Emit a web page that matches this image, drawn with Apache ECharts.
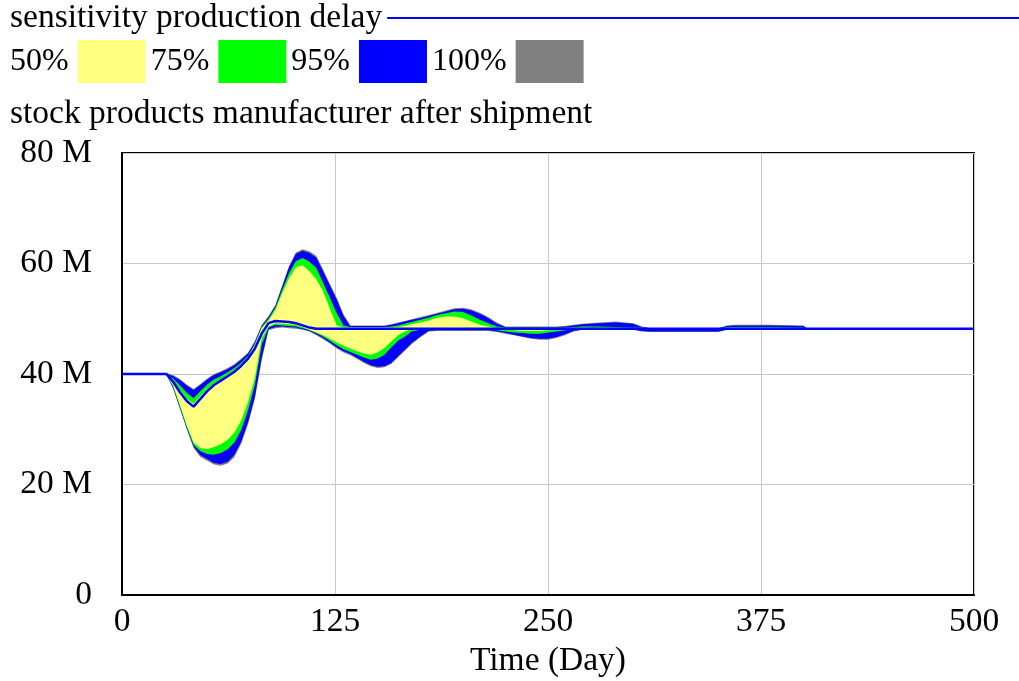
<!DOCTYPE html>
<html>
<head>
<meta charset="utf-8">
<script src="https://cdn.jsdelivr.net/npm/echarts@6/dist/echarts.min.js"></script>
<style>html,body{margin:0;padding:0;background:#fff}#c{width:1019px;height:681px}</style>
</head>
<body>
<div id="c"></div>
<script>
// Time (Day)
const days = [0,26,30,34,38,42,46,50,54,58,62,66,70,74,78,82,86,90,94,98,102,106,110,114,118,122,126,130,134,138,142,146,150,154,158,162,166,170,175,180,185,190,195,200,205,210,215,220,225,230,235,240,245,250,255,260,265,270,280,290,300,305,310,330,350,355,360,380,400,402,500];
// base run (M)
const baseRun = [40,40,38.6,36.7,35.1,34.1,35.5,36.9,38.0,38.8,39.6,40.4,41.5,42.8,44.6,47.3,49.2,49.6,49.5,49.4,49.2,48.8,48.4,48.2,48.2,48.2,48.2,48.2,48.2,48.2,48.2,48.2,48.2,48.2,48.2,48.2,48.2,48.2,48.2,48.2,48.2,48.2,48.2,48.2,48.2,48.2,48.2,48.2,48.2,48.2,48.2,48.2,48.2,48.2,48.2,48.2,48.2,48.2,48.2,48.2,48.2,48.2,48.2,48.2,48.2,48.2,48.2,48.2,48.2,48.2,48.2];
// confidence bounds (M)
const up100 = [40,40.2,39.8,39.1,38.1,37.3,38.2,39.2,40.0,40.5,41.1,41.8,42.8,43.9,46.0,48.9,50.5,52.5,56.0,59.5,62.0,62.6,62.2,61.4,58.9,56.3,53.8,50.8,48.8,48.8,48.8,48.8,48.8,48.8,49.0,49.3,49.6,49.9,50.3,50.7,51.1,51.5,51.9,52.0,51.7,51.1,50.3,49.3,48.6,48.6,48.6,48.6,48.6,48.6,48.6,48.7,48.9,49.1,49.3,49.5,49.2,48.6,48.3,48.3,48.3,48.8,48.9,48.9,48.8,48.2,48.2];
const up95 = [40,40.1,39.6,38.9,37.9,37.1,38.0,39.0,39.8,40.3,40.9,41.6,42.6,43.7,45.8,48.7,50.3,52.3,55.8,59.3,61.7,62.3,61.9,61.1,58.6,56.0,53.5,50.5,48.7,48.7,48.7,48.7,48.7,48.7,48.9,49.2,49.5,49.8,50.1,50.5,50.9,51.3,51.7,51.8,51.5,50.9,50.1,49.1,48.5,48.5,48.5,48.5,48.5,48.5,48.5,48.6,48.8,49.0,49.2,49.3,49.1,48.5,48.3,48.3,48.3,48.7,48.8,48.8,48.7,48.2,48.2];
const up75 = [40,40,39.2,37.9,36.6,35.6,36.9,38.1,39.0,39.6,40.3,41.1,42.1,43.3,45.5,48.5,50.0,52.0,55.2,58.2,60.4,61.0,60.3,59.2,56.5,53.8,51.0,48.8,48.5,48.5,48.5,48.5,48.5,48.5,48.6,48.8,49.1,49.4,49.8,50.2,50.7,51.0,51.3,51.2,50.6,49.8,49.2,48.6,48.4,48.4,48.4,48.4,48.4,48.4,48.4,48.4,48.5,48.6,48.6,48.5,48.4,48.4,48.3,48.3,48.3,48.5,48.5,48.5,48.4,48.2,48.2];
const up50 = [40,40,38.7,37.1,35.5,34.6,36.0,37.3,38.3,39.0,39.8,40.6,41.7,43.0,45.2,48.3,49.7,51.6,54.6,57.3,59.3,59.7,58.6,57.2,55.0,51.8,48.8,48.4,48.4,48.4,48.4,48.4,48.4,48.4,48.4,48.5,48.7,49.0,49.3,49.7,50.2,50.4,50.4,50.1,49.5,48.9,48.6,48.3,48.3,48.3,48.3,48.3,48.3,48.3,48.3,48.3,48.3,48.4,48.3,48.3,48.3,48.3,48.3,48.3,48.3,48.3,48.3,48.3,48.3,48.2,48.2];
const lo50 = [40,40,37.9,34.4,30.7,27.6,26.6,26.4,26.8,27.3,28.1,29.4,31.6,35.0,39.3,46.5,48.6,49.2,49.1,49.0,48.9,48.5,48.0,47.5,47.0,46.4,45.7,45.1,44.6,44.1,43.7,43.5,43.9,44.7,45.9,47.0,47.7,48.1,48.1,48.1,48.1,48.1,48.1,48.1,48.1,48.1,48.1,48.0,48.0,47.9,47.8,47.8,47.8,47.9,48.0,48.1,48.1,48.1,48.1,48.1,48.1,48.1,48.1,48.1,48.1,48.1,48.1,48.1,48.1,48.2,48.2];
const lo75 = [40,40,37.7,34.1,30.4,27.2,26.0,25.5,25.4,25.7,26.4,27.6,29.9,33.5,38.1,45.3,48.4,48.9,48.8,48.7,48.6,48.3,47.9,47.4,46.8,46.0,45.2,44.5,44.0,43.5,43.0,42.6,42.8,43.5,44.8,46.0,46.8,47.7,48.0,48.0,48.0,48.0,48.0,48.0,48.0,48.0,48.0,47.9,47.7,47.5,47.4,47.3,47.3,47.5,47.7,47.9,48.1,48.1,48.1,48.1,48.1,48.0,48.0,48.0,48.0,48.1,48.1,48.1,48.1,48.2,48.2];
const lo95 = [40,40,37.5,33.9,30.2,26.9,25.3,24.6,23.9,23.7,24.1,25.4,27.8,31.3,35.9,43.0,48.1,48.5,48.6,48.5,48.4,48.1,47.8,47.2,46.5,45.7,44.8,44.1,43.6,42.9,42.2,41.6,41.3,41.4,42.0,43.2,44.4,45.6,46.8,47.8,47.9,47.9,47.9,47.9,47.9,47.9,47.9,47.7,47.4,47.1,46.8,46.5,46.4,46.4,46.7,47.2,47.8,48.0,48.0,48.0,48.0,47.8,47.7,47.7,47.7,48.0,48.0,48.0,48.0,48.2,48.2];
const lo100 = [40,39.9,37.3,33.7,30.0,26.6,25.0,24.3,23.6,23.4,23.8,25.0,27.4,30.9,35.5,42.5,47.9,48.3,48.4,48.3,48.2,48.0,47.7,47.0,46.3,45.5,44.6,43.9,43.4,42.7,42.0,41.4,41.1,41.2,41.8,43.0,44.2,45.4,46.6,47.7,47.8,47.8,47.8,47.8,47.8,47.8,47.8,47.6,47.3,47.0,46.7,46.4,46.2,46.2,46.5,47.0,47.7,48.0,48.0,48.0,48.0,47.7,47.6,47.6,47.6,48.0,48.0,48.0,48.0,48.2,48.2];
// axis ticks
const xTicks = {min: 0, max: 500, interval: 125};
const yTicks = {min: 0, max: 80, interval: 20};
const legendNames = ['50%', '75%', '95%', '100%'];

const FONT = 'Liberation Serif';
const FS = 33.5;
const LFS = 32;
const bandColors = {'100%': '#808080', '95%': '#0000ff', '75%': '#00ff00', '50%': '#ffff80'};

function band(name, lower, upper) {
  const c = bandColors[name];
  return {
    name: name, type: 'custom', coordinateSystem: 'cartesian2d',
    color: c, itemStyle: {color: c}, silent: true, animation: false,
    encode: {x: 0, y: [1, 2]},
    data: days.map((d, i) => [d, lower[i], upper[i]]),
    renderItem: function (params, api) {
      if (params.dataIndex !== 0) return null;
      const pts = [];
      for (let i = 0; i < days.length; i++) pts.push(api.coord([days[i], upper[i]]));
      for (let i = days.length - 1; i >= 0; i--) pts.push(api.coord([days[i], lower[i]]));
      return {type: 'polygon', shape: {points: pts}, style: {fill: c, stroke: null}};
    }
  };
}

const series = [
  band('100%', lo100, up100),
  band('95%', lo95, up95),
  band('75%', lo75, up75),
  band('50%', lo50, up50),
  {name: 'sensitivity production delay', type: 'line', data: days.map((d, i) => [d, baseRun[i]]), symbol: 'none',
   color: '#0000ff', lineStyle: {color: '#0000ff', width: 2.5}, itemStyle: {color: '#0000ff'},
   animation: false, z: 5}
];

const chart = echarts.init(document.getElementById('c'), null, {renderer: 'canvas'});
chart.setOption({
  animation: false,
  backgroundColor: '#ffffff',
  textStyle: {fontFamily: FONT},
  title: {
    text: 'stock products manufacturer after shipment',
    left: 10, top: 97, padding: 0,
    textStyle: {fontFamily: FONT, fontSize: FS, fontWeight: 'normal', color: '#000'}
  },
  legend: [
    {
      data: [{name: 'sensitivity production delay', itemStyle: {color: '#0000ff'}}],
      left: 10, top: 1, padding: 0, align: 'right', icon: 'rect',
      itemWidth: 640, itemHeight: 2, selectedMode: false,
      textStyle: {fontFamily: FONT, fontSize: FS, color: '#000'}
    },
    {
      data: legendNames.map(n => ({name: n, itemStyle: {color: bandColors[n], borderWidth: 0}})),
      left: 10, top: 40, padding: 0, align: 'right', icon: 'rect',
      itemWidth: 68, itemHeight: 43, itemGap: 5, selectedMode: false,
      textStyle: {fontFamily: FONT, fontSize: LFS, color: '#000', padding: [0, 4, 0, 0]}
    }
  ],
  grid: {left: 122, top: 153, right: 45, bottom: 86, show: true, borderColor: '#000', borderWidth: 2,
         containLabel: false, outerBoundsMode: 'none'},
  xAxis: {
    type: 'value', min: xTicks.min, max: xTicks.max, interval: xTicks.interval,
    name: 'Time (Day)', nameLocation: 'middle', nameGap: 44,
    nameTextStyle: {fontFamily: FONT, fontSize: FS, color: '#000'},
    axisLine: {lineStyle: {color: '#000', width: 2}}, axisTick: {show: false},
    axisLabel: {fontFamily: FONT, fontSize: FS, color: '#000', margin: 10},
    splitLine: {lineStyle: {color: '#c8c8c8', width: 1}}
  },
  yAxis: {
    type: 'value', min: yTicks.min, max: yTicks.max, interval: yTicks.interval,
    axisLine: {show: true, lineStyle: {color: '#000', width: 2}}, axisTick: {show: false},
    axisLabel: {fontFamily: FONT, fontSize: FS, color: '#000', margin: 30, padding: [4, 0, 0, 0],
      formatter: v => v === 0 ? '0' : v + ' M'},
    splitLine: {lineStyle: {color: '#c8c8c8', width: 1}}
  },
  series: series
});
</script>
</body>
</html>
